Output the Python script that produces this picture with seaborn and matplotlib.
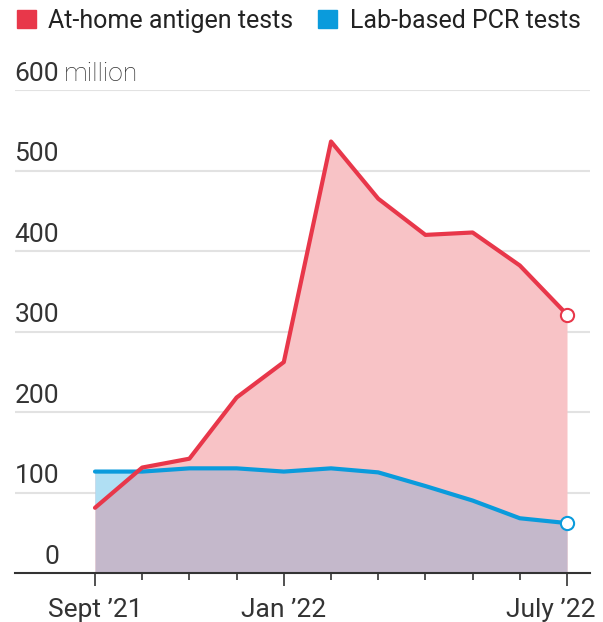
import numpy as np
import pandas as pd
import matplotlib
matplotlib.use('Agg')
import matplotlib.pyplot as plt
import matplotlib.transforms as mtransforms
from matplotlib.patches import Patch
import seaborn as sns

# Monthly covid tests, millions
months = ['Sep 21', 'Oct 21', 'Nov 21', 'Dec 21', 'Jan 22', 'Feb 22',
          'Mar 22', 'Apr 22', 'May 22', 'Jun 22', 'Jul 22']
antigen = [81, 131, 142, 218, 262, 536, 465, 420, 423, 382, 321]
pcr = [126, 126, 130, 130, 126, 130, 125, 108, 90, 68, 62]
x_labels = ['Sept \u201921', '', '', '', 'Jan \u201922', '', '', '', '', '', 'July \u201922']
y_ticks = [0, 100, 200, 300, 400, 500, 600]

RED = '#e8374a'
BLUE = '#0a9bdc'
PINK = '#f8c3c6'
LIGHTBLUE = '#b0dff3'
OVERLAP = '#c4b8cb'
TEXT = '#333333'

sns.set_theme(style='white')
plt.rcParams['font.family'] = ['Roboto', 'DejaVu Sans']

df = pd.DataFrame({'month': months, 'idx': range(len(months)),
                   'antigen': antigen, 'pcr': pcr})
x = df['idx'].to_numpy()
a = df['antigen'].to_numpy()
p = df['pcr'].to_numpy()

fig = plt.figure(figsize=(6.03, 6.22), dpi=100)
ax = fig.add_axes([15/603, 49/622, 575/603, 483/622])

# Areas
ax.fill_between(x, 0, a, color=PINK, lw=0, zorder=1)
ax.fill_between(x, 0, p, color=OVERLAP, lw=0, zorder=2)
ax.fill_between(x, a, p, where=p > a, interpolate=True, color=LIGHTBLUE, lw=0, zorder=3)

# Lines
sns.lineplot(data=df, x='idx', y='pcr', color=BLUE, lw=3, ax=ax, zorder=5)
sns.lineplot(data=df, x='idx', y='antigen', color=RED, lw=3, ax=ax, zorder=6)
ax.plot(x[-1], p[-1], 'o', ms=9.5, mfc='white', mec=BLUE, mew=1.5, zorder=7)
ax.plot(x[-1], a[-1], 'o', ms=9.5, mfc='white', mec=RED, mew=1.5, zorder=7)

ax.set_xlim(-1.695, 10.487)
ax.set_ylim(0, 600)

# Gridlines
for v in y_ticks[1:]:
    ax.axhline(v, color='#e2e2e2', lw=1.5, zorder=0)
for s in ['top', 'right', 'left']:
    ax.spines[s].set_visible(False)
ax.spines['bottom'].set_color(TEXT)
ax.spines['bottom'].set_linewidth(1.5)
ax.spines['bottom'].set_zorder(8)

# Y labels sitting on top of gridlines
ax.set_yticks([])
ax.set_ylabel('')
ax.set_xlabel('')
for v in y_ticks:
    ax.annotate(str(v), xy=(44/575, v), xycoords=('axes fraction', 'data'),
                xytext=(0, 6.5), textcoords='offset points', ha='right', va='baseline',
                fontsize=19, color=TEXT)
ax.annotate('million', xy=(49/575, 600), xycoords=('axes fraction', 'data'),
            xytext=(0, 6.5), textcoords='offset points', ha='left', va='baseline',
            fontsize=19, color=TEXT, fontweight='light')

# X ticks
major = [i for i, l in enumerate(x_labels) if l]
minor = [i for i, l in enumerate(x_labels) if not l]
ax.set_xticks(major)
ax.set_xticklabels([x_labels[i] for i in major])
ax.set_xticks(minor, minor=True)
ax.tick_params(axis='x', which='major', length=9, width=1.2, color=TEXT,
               pad=9, labelsize=19, labelcolor=TEXT, direction='out', bottom=True)
ax.tick_params(axis='x', which='minor', length=5, width=1.2, color=TEXT,
               direction='out', bottom=True)
last = ax.get_xticklabels()[-1]
last.set_transform(last.get_transform() +
                   mtransforms.ScaledTranslation(-12/72, 0, fig.dpi_scale_trans))

# Legend
handles = [Patch(color=RED, label='At-home antigen tests'),
           Patch(color=BLUE, label='Lab-based PCR tests')]
leg = fig.legend(handles=handles, loc='upper left', bbox_to_anchor=(17/603, 1 - 9/622),
                 ncol=2, frameon=False, fontsize=18, handlelength=0.75, handleheight=0.75,
                 handletextpad=0.5, columnspacing=1.0, borderpad=0, borderaxespad=0)
for t in leg.get_texts():
    t.set_color('#222222')

fig.savefig('out.png', dpi=100)
